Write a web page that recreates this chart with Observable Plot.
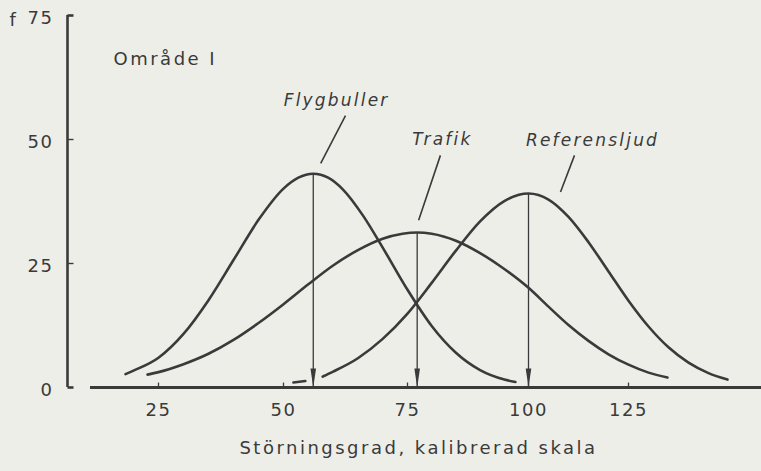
<!DOCTYPE html>
<html><head><meta charset="utf-8">
<script src="https://cdn.jsdelivr.net/npm/d3@7"></script>
<script src="https://cdn.jsdelivr.net/npm/@observablehq/plot@0.6"></script>
<style>
html,body{margin:0;padding:0;background:#eeeee9;}
svg text{letter-spacing:1.5px;}
g[font-style="italic"] text{letter-spacing:2.2px;}
g.wide text{letter-spacing:2.5px;}
</style></head><body><div id="chart"></div>
<script>
// ---- data ----
const xTicks = [25, 50, 75, 100, 125];
const yTicks = [0, 25, 50, 75];

const seriesNames = ["Flygbuller", "Trafik", "Referensljud"];

const flygX = [18.4, 20, 25, 30, 35, 40, 45, 50, 53, 56, 59, 62, 66, 70, 75, 80, 85, 90, 95, 97.3];
const flygF = [2.7, 3.4, 6.0, 10.8, 17.6, 25.7, 33.8, 40.1, 42.3, 43.1, 42.3, 39.9, 34.7, 28.2, 19.7, 12.4, 7.0, 3.5, 1.6, 1.1];

const trafikX = [22.8, 25, 30, 35, 40, 45, 50, 55, 60, 65, 70, 74, 77, 80, 85, 90, 95, 100, 105, 110, 115, 120, 125, 130, 134.75];
const trafikF = [2.6, 3.1, 4.7, 6.8, 9.6, 13.0, 16.8, 20.8, 24.6, 27.7, 30.0, 31.0, 31.25, 31.0, 29.6, 27.1, 23.9, 20.1, 16.3, 12.6, 9.4, 6.7, 4.6, 3.0, 2.0];

// null = break in the drawn line (gap at the Flygbuller arrow)
const refX = [52, 54.4, 56, 57.9, 60, 65, 70, 75, 80, 85, 90, 95, 100, 105, 110, 115, 120, 125, 130, 135, 140, 145, 149.75];
const refF = [1.0, 1.3, null, 2.2, 3.2, 5.9, 9.8, 14.9, 21.1, 27.6, 33.5, 37.6, 39.1, 37.9, 34.4, 29.3, 23.4, 17.5, 12.3, 8.1, 5.0, 2.9, 1.6];

// means (arrows)
const peakX = [56, 77, 100];
const peakF = [43.1, 31.25, 39.1];

// series labels and their leader lines
const labelX = [60.7, 82.2, 116];
const labelF = [57.9, 50.0, 49.8];
const leaderX1 = [62.5, 81.8, 111.5];
const leaderF1 = [54.8, 46.8, 46.8];
const leaderX2 = [57.5, 77.3, 108];
const leaderF2 = [45.2, 33.7, 39.4];

const panelTitle = "Område I";
const xTitle = "Störningsgrad, kalibrerad skala";
const yTitle = "f";

// ---- layout / style ----
const ink = "#3a3a3a";
const font = "DejaVu Sans, sans-serif";
const yAxisAt = 6.8;          // x value where the f axis stands
const yTickLen = 1.2;         // tick length along x (≈6 px)
const xTickLen = 1.0;         // tick length along f (≈5 px)
const xAxisFrom = 11.4, xAxisTo = 165;

const curves = [[flygX, flygF], [trafikX, trafikF], [refX, refF]].flatMap(([xs, fs], i) =>
  xs.map((x, j) => ({series: seriesNames[i], x, f: fs[j]})));
const peaks = peakX.map((x, i) => ({x, f: peakF[i]}));
const labels = seriesNames.map((name, i) => ({name, x: labelX[i], f: labelF[i],
  x1: leaderX1[i], f1: leaderF1[i], x2: leaderX2[i], f2: leaderF2[i]}));

const arrowHead = {draw(ctx) { ctx.moveTo(0, 0); ctx.lineTo(-2.8, -19); ctx.lineTo(2.8, -19); ctx.closePath(); }};
const endTicks = yTicks.filter(t => t === 0 || t === 75);
const midTicks = yTicks.filter(t => t !== 0 && t !== 75);

const chart = Plot.plot({
  width: 761, height: 471,
  marginLeft: 67, marginRight: 0, marginTop: 15, marginBottom: 83,
  style: {background: "#eeeee9", color: ink, fontFamily: font, fontSize: "18px"},
  x: {type: "linear", domain: xTicks, range: [158, 283, 407, 528, 628]},
  y: {type: "linear", domain: [0, 75], range: [387, 15]},
  marks: [
    // axes
    Plot.ruleY([0], {x1: xAxisFrom, x2: xAxisTo, stroke: ink, strokeWidth: 3}),
    Plot.ruleX([yAxisAt], {y1: 0, y2: 75, stroke: ink, strokeWidth: 2.6}),
    Plot.link(endTicks, {x1: yAxisAt, x2: yAxisAt + yTickLen, y1: d => d, y2: d => d, stroke: ink, strokeWidth: 2.6}),
    Plot.link(midTicks, {x1: yAxisAt, x2: yAxisAt + yTickLen, y1: d => d, y2: d => d, stroke: ink, strokeWidth: 1.4}),
    Plot.link(xTicks, {x1: d => d, x2: d => d, y1: 0, y2: xTickLen, stroke: ink, strokeWidth: 1.3}),
    Plot.axisY({ticks: yTicks, tickSize: 0, tickPadding: 14, label: null, fill: ink, fontSize: 18, dy: 3}),
    Plot.axisX({ticks: xTicks, tickSize: 0, tickPadding: 15, label: null, fill: ink, fontSize: 18}),
    // curves
    Plot.line(curves, {x: "x", y: "f", z: "series", curve: "monotone-x", stroke: ink, strokeWidth: 2.6}),
    // mean arrows
    Plot.ruleX(peaks, {x: "x", y1: "f", y2: 0, stroke: ink, strokeWidth: 1.3}),
    Plot.dot(peaks, {x: "x", y: 0, symbol: arrowHead, r: 5, fill: ink, stroke: "none"}),
    // labels
    Plot.link(labels, {x1: "x1", y1: "f1", x2: "x2", y2: "f2", stroke: ink, strokeWidth: 1.6}),
    Plot.text(labels, {x: "x", y: "f", text: "name", fontStyle: "italic", fontSize: 17, fill: ink}),
    Plot.text([panelTitle], {frameAnchor: "top-left", dx: 46, dy: 37, textAnchor: "start", fontSize: 18, fill: ink, className: "wide"}),
    Plot.text([yTitle], {frameAnchor: "top-left", dx: -58, dy: -2, fontSize: 18, fill: ink}),
    Plot.text([xTitle], {frameAnchor: "bottom", dx: 4, dy: 65, fontSize: 18, fill: ink, className: "wide"})
  ]
});
document.getElementById("chart").appendChild(chart);
</script></body></html>
